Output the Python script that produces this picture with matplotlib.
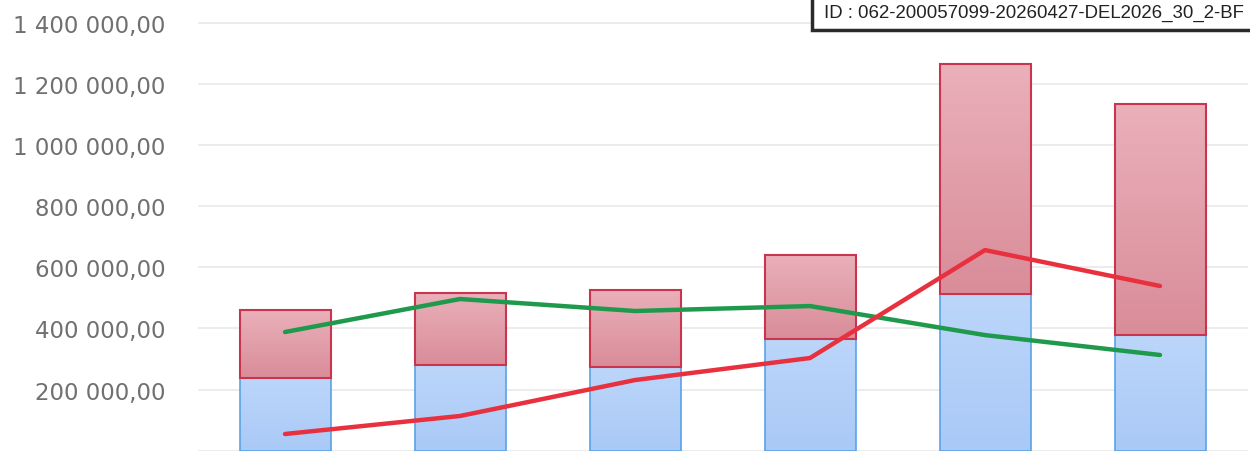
import matplotlib
matplotlib.use("Agg")
import matplotlib.pyplot as plt
import numpy as np
from matplotlib.patches import Rectangle
from matplotlib.colors import LinearSegmentedColormap

# Data
categories = ["1", "2", "3", "4", "5", "6"]
blue_values = [237700, 280200, 273700, 365300, 512400, 378300]
red_values = [222300, 235500, 251800, 274700, 752100, 755400]
green_line = [388000, 496000, 456800, 473000, 378000, 313000]
red_line = [54600, 113500, 231000, 303000, 656000, 538500]
yticks = [0, 200000, 400000, 600000, 800000, 1000000, 1200000, 1400000]
id_text = "ID : 062-200057099-20260427-DEL2026_30_2-BF"

def fmt(v):
    if v == 0:
        return "-"
    s = f"{v:,.2f}"
    s = s.replace(",", " ").replace(".", ",")
    return s

W, H = 1250, 452
fig = plt.figure(figsize=(W / 100, H / 100), dpi=100)
ax = fig.add_axes([197.5 / W, 0.3 / H, (1247.5 - 197.5) / W, 451.7 / H])

x = np.arange(len(categories))
width = 0.52

blue_cmap = LinearSegmentedColormap.from_list("b", ["#bcd6fa", "#a9c9f6"])
red_cmap = LinearSegmentedColormap.from_list("r", ["#eab0ba", "#d98d99"])

grad = np.linspace(0, 1, 100).reshape(-1, 1)

bars_b = ax.bar(x, blue_values, width, color="#b3d0f8", edgecolor="#5aa2e6",
                linewidth=1.2, zorder=2)
bars_r = ax.bar(x, red_values, width, bottom=blue_values, color="#e4a2ad",
                edgecolor="#c9344f", linewidth=1.5, zorder=2)

for bars, cmap in ((bars_b, blue_cmap), (bars_r, red_cmap)):
    for b in bars:
        x0, y0 = b.get_x(), b.get_y()
        w, h = b.get_width(), b.get_height()
        im = ax.imshow(grad, cmap=cmap, aspect="auto", origin="upper",
                       extent=[x0, x0 + w, y0, y0 + h], zorder=2.1)
        im.set_clip_path(b)
        b.set_facecolor("none")
        b.set_zorder(2.2)

ax.set_xlim(-0.5, len(categories) - 0.5)
ax.set_ylim(0, 1477000)

ax.plot(x, green_line, color="#1f9a4c", linewidth=3.2, zorder=3,
        solid_capstyle="round")
ax.plot(x, red_line, color="#e8303e", linewidth=3.2, zorder=3,
        solid_capstyle="round")

ax.set_yticks(yticks)
ax.set_yticklabels([fmt(v) for v in yticks])
ax.tick_params(axis="y", length=0, pad=23, labelsize=16.5, labelcolor="#707070")
ax.tick_params(axis="x", length=0, labelbottom=False)
ax.grid(axis="y", color="#ebebeb", linewidth=1.3, zorder=0)
ax.set_axisbelow(True)
for s in ax.spines.values():
    s.set_visible(False)

# ID box at top right
rect = Rectangle((812 / W, (H - 31) / H), 0.4, 0.2, transform=fig.transFigure,
                 facecolor="white", edgecolor="#2a2a2a", linewidth=2.5,
                 zorder=10, clip_on=False)
fig.add_artist(rect)
fig.text(824 / W, (H - 13) / H, id_text, fontsize=13.4,
         family="Liberation Sans", color="#222222", va="center", ha="left",
         zorder=11)

fig.savefig("out.png", dpi=100)
